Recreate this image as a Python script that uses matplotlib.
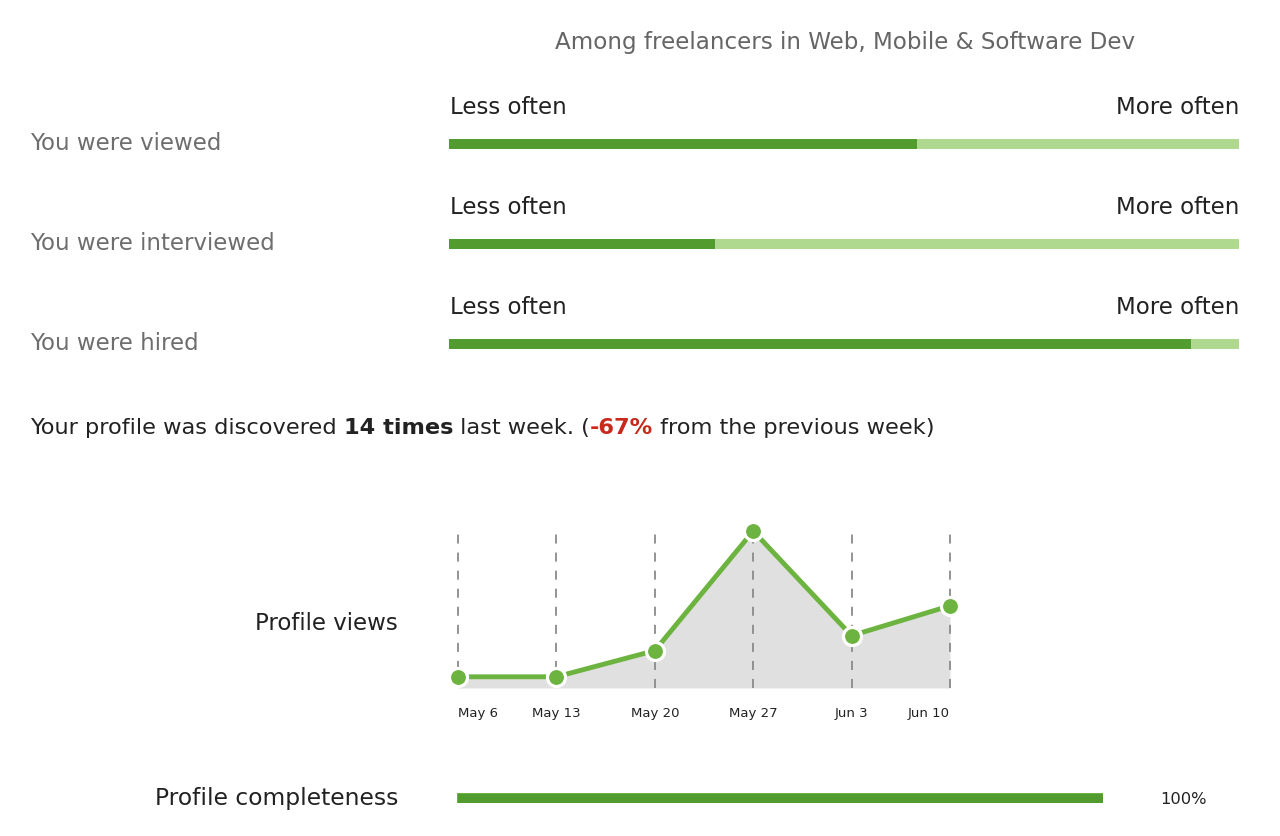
import matplotlib
matplotlib.use("Agg")
import matplotlib.pyplot as plt

# ---- data ----
title = "Among freelancers in Web, Mobile & Software Dev"
metrics = ["You were viewed", "You were interviewed", "You were hired"]
metric_fraction = [0.592, 0.337, 0.939]
weeks = ["May 6", "May 13", "May 20", "May 27", "Jun 3", "Jun 10"]
views = [3, 3, 10, 42, 14, 22]
discovered = 14
change_pct = -67
completeness = 100

W, H = 1280, 836
DARK = "#529b2e"
LIGHT = "#afd98f"
LINE = "#6cb43f"
FONT = "DejaVu Sans"
FS = 16.5
plt.rcParams['font.family'] = [FONT]

fig = plt.figure(figsize=(W / 100, H / 100), dpi=100)
fig.patch.set_facecolor("white")

def rect(px_left, px_top, px_w, px_h):
    return [px_left / W, 1 - (px_top + px_h) / H, px_w / W, px_h / H]

# overlay for text
ov = fig.add_axes([0, 0, 1, 1])
ov.set_xlim(0, W)
ov.set_ylim(H, 0)
ov.axis("off")

ov.text(845, 42, title, ha="center", va="center", fontsize=16.6, color="#666666")

# comparison bars
axb = fig.add_axes(rect(449, 94, 790, 300))
axb.set_xlim(0, 1)
axb.set_ylim(len(metrics) - 0.5, -0.5)
axb.axis("off")
ys = list(range(len(metrics)))
axb.barh(ys, [1] * len(metrics), height=0.1, color=LIGHT, linewidth=0)
axb.barh(ys, metric_fraction, height=0.1, color=DARK, linewidth=0)
for i, m in enumerate(metrics):
    py = 144 + i * 100
    ov.text(30, py - 1, m, ha="left", va="center", fontsize=FS, color="#6e6e6e")
    ov.text(450, py - 37, "Less often", ha="left", va="center", fontsize=FS, color="#222222")
    ov.text(1239, py - 37, "More often", ha="right", va="center", fontsize=FS, color="#222222")

# discovered sentence (mixed styles)
fig.canvas.draw()
renderer = fig.canvas.get_renderer()
parts = [
    ("Your profile was discovered ", "normal", "#222222"),
    (f"{discovered} times", "bold", "#222222"),
    (" last week. (", "normal", "#222222"),
    (f"{change_pct}%", "bold", "#c8291c"),
    (" from the previous week)", "normal", "#222222"),
]
x = 30
inv = ov.transData.inverted()
for s, w, c in parts:
    t = ov.text(x, 428, s, ha="left", va="center", fontsize=16.2, color=c, fontweight=w)
    bb = t.get_window_extent(renderer=renderer)
    x0 = inv.transform((bb.x0, bb.y0))[0]
    x1 = inv.transform((bb.x1, bb.y0))[0]
    x = x + (x1 - x0)

# line chart
axl = fig.add_axes(rect(458, 531, 492, 157))
n = len(weeks)
xs = list(range(n))
axl.set_xlim(0, n - 1)
axl.set_ylim(0, max(views))
axl.axis("off")
axl.fill_between(xs, 0, views, color="#e0e0e0", linewidth=0, zorder=1)
axl.vlines(xs, 0, max(views) * 0.99, colors="#8a8a8a", linestyles=(0, (5, 5)),
           linewidth=1.3, zorder=2, clip_on=False)
axl.plot(xs, views, color=LINE, linewidth=3.5, zorder=3, clip_on=False,
         solid_capstyle="round")
axl.plot(xs, views, "o", markersize=13, markerfacecolor=LINE, markeredgecolor="white",
         markeredgewidth=2.3, zorder=4, clip_on=False)
for i, lab in enumerate(weeks):
    ha = "left" if i == 0 else ("right" if i == n - 1 else "center")
    axl.annotate(lab, (i, 0), xytext=(0, -25), textcoords="offset pixels",
                 ha=ha, va="center", fontsize=9.5, color="#222222",
                 annotation_clip=False)
ov.text(398, 623, "Profile views", ha="right", va="center", fontsize=FS, color="#222222")

# profile completeness
axc = fig.add_axes(rect(457, 793, 646, 10))
axc.set_xlim(0, 100)
axc.set_ylim(-0.5, 0.5)
axc.axis("off")
axc.barh([0], [completeness], height=1.0, color=DARK, edgecolor="#6cb43f", linewidth=0.8)
ov.text(398, 799, "Profile completeness", ha="right", va="center", fontsize=16.8, color="#222222")
ov.text(1160, 799, f"{completeness}%", ha="left", va="center", fontsize=11.7, color="#222222")

fig.savefig("out.png", dpi=100, facecolor="white")
